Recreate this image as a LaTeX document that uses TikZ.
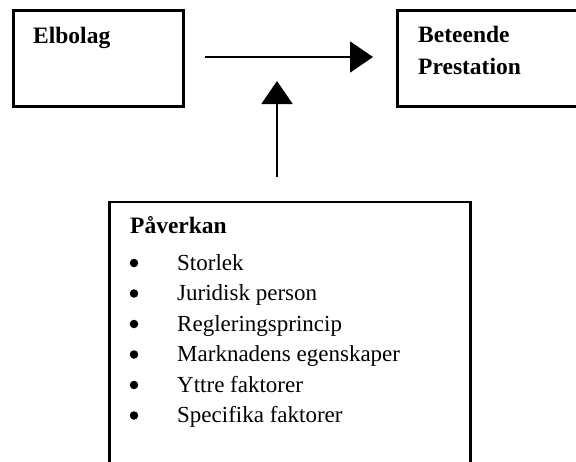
\documentclass[tikz,border=0pt]{standalone}
\usepackage{fontspec}
\setmainfont{Liberation Serif}
\usetikzlibrary{arrows.meta}
\begin{document}
\begin{tikzpicture}[x=1pt,y=-1pt,
  box/.style={draw=black,line width=2.6pt,inner sep=0pt,anchor=north west},
  txt/.style={anchor=base west,inner sep=0pt,font=\fontsize{23}{24}\selectfont},
  btxt/.style={txt,font=\fontsize{23.5}{24}\selectfont\bfseries},
  dot/.style={circle,fill=black,inner sep=0pt,minimum size=8.5pt},
  conn/.style={line width=2pt,-{Triangle[length=23pt,width=31pt]}}]
\useasboundingbox (0,0) rectangle (576,461);
\begin{scope}
\clip (0,0) rectangle (576,461);
\node[box,minimum width=170pt,minimum height=96pt] (elbolag) at (12,9) {};
\node[box,minimum width=200pt,minimum height=96pt] (beteende) at (396,9) {};
\node[box,minimum width=361pt,minimum height=300pt] (paverkan) at (108,200.5) {};
\end{scope}
\node[btxt] (t1) at (33,43) {Elbolag};
\node[btxt] (t2) at (418,42) {Beteende};
\node[btxt] (t3) at (418,74) {Prestation};
\node[btxt] (t4) at (130,233) {Påverkan};
\foreach \i/\s in {0/Storlek,1/Juridisk person,2/Regleringsprincip,3/Marknadens egenskaper,4/Yttre faktorer,5/Specifika faktorer}{
  \node[dot] (b\i) at (134,263+30.5*\i) {};
  \node[txt] (i\i) at (177,270+30.5*\i) {\s};
}
\coordinate (hs) at (205,57);
\coordinate (he) at (373,57);
\coordinate (vs) at (277,177);
\coordinate (ve) at (277,81);
\draw[conn] (hs) -- (he);
\draw[conn] (vs) -- (ve);
\end{tikzpicture}
\end{document}
